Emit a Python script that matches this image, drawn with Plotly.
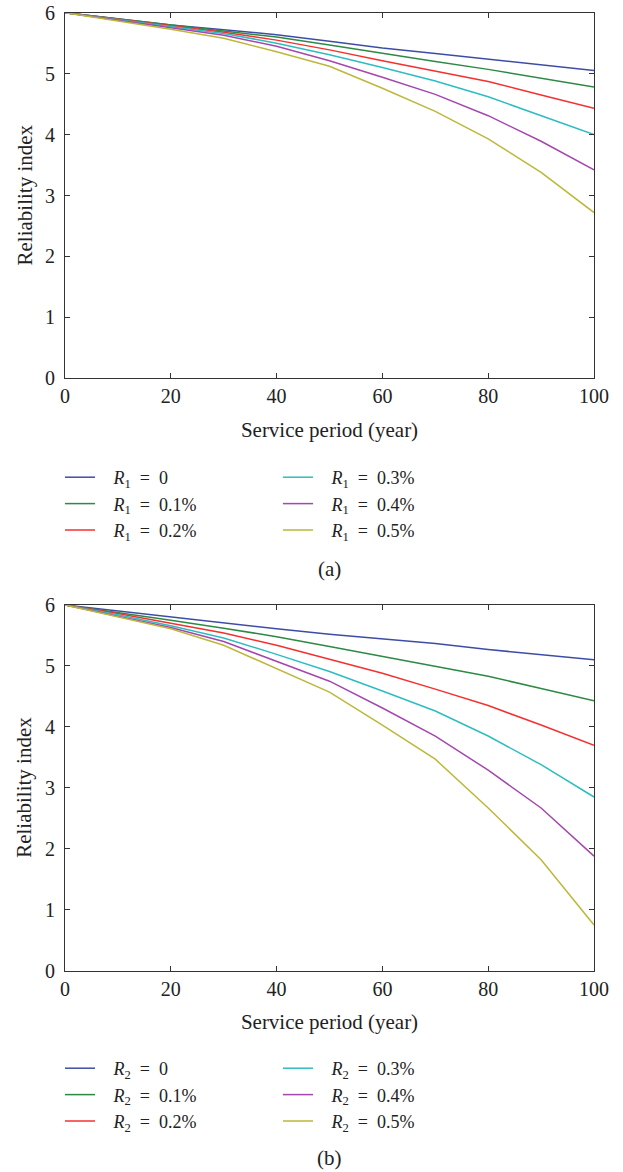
import plotly.graph_objects as go

# ---- data ----
years = [0, 10, 20, 30, 40, 50, 60, 70, 80, 90, 100]

r_labels = ["0", "0.1%", "0.2%", "0.3%", "0.4%", "0.5%"]

# (a) R1 series
a_r0 = [6, 5.90, 5.80, 5.72, 5.64, 5.53, 5.42, 5.33, 5.24, 5.14, 5.05]
a_r1 = [6, 5.90, 5.79, 5.70, 5.60, 5.47, 5.33, 5.20, 5.07, 4.93, 4.78]
a_r2 = [6, 5.89, 5.78, 5.68, 5.55, 5.39, 5.21, 5.04, 4.87, 4.65, 4.43]
a_r3 = [6, 5.89, 5.77, 5.66, 5.50, 5.31, 5.10, 4.88, 4.62, 4.31, 4.00]
a_r4 = [6, 5.88, 5.76, 5.63, 5.45, 5.21, 4.94, 4.66, 4.31, 3.89, 3.42]
a_r5 = [6, 5.87, 5.73, 5.58, 5.36, 5.12, 4.76, 4.38, 3.93, 3.38, 2.72]

# (b) R2 series
b_r0 = [6, 5.90, 5.80, 5.70, 5.61, 5.52, 5.45, 5.37, 5.27, 5.19, 5.10]
b_r1 = [6, 5.88, 5.75, 5.62, 5.48, 5.32, 5.16, 4.99, 4.83, 4.63, 4.43]
b_r2 = [6, 5.86, 5.70, 5.54, 5.34, 5.11, 4.88, 4.62, 4.35, 4.03, 3.70]
b_r3 = [6, 5.84, 5.66, 5.46, 5.19, 4.91, 4.59, 4.26, 3.85, 3.38, 2.85]
b_r4 = [6, 5.82, 5.63, 5.40, 5.08, 4.75, 4.31, 3.85, 3.29, 2.67, 1.88]
b_r5 = [6, 5.80, 5.61, 5.34, 4.96, 4.57, 4.03, 3.47, 2.67, 1.82, 0.75]

x_ticks = [0, 20, 40, 60, 80, 100]
y_ticks = [0, 1, 2, 3, 4, 5, 6]

colors = ["#3D4DA6", "#2D8A45", "#F5302F", "#2DBDC0", "#A447AE", "#BDB73A"]

FONT = "Liberation Serif"
FS = 20
TFS = 21
LFS = 18
W, H = 623, 1172
INK = "#222222"

fig = go.Figure()

a_series = [a_r0, a_r1, a_r2, a_r3, a_r4, a_r5]
b_series = [b_r0, b_r1, b_r2, b_r3, b_r4, b_r5]

def leg_name(sub, lab):
    return f"&nbsp;&nbsp;&nbsp;<i>R</i><sub>{sub}</sub>&nbsp; = &nbsp;{lab}"

for i, (ys, lab) in enumerate(zip(a_series, r_labels)):
    fig.add_trace(go.Scatter(
        x=years, y=ys, mode="lines",
        line=dict(color=colors[i], width=1.5),
        name=leg_name(1, lab),
        legend="legend" if i < 3 else "legend2",
        xaxis="x", yaxis="y",
    ))
for i, (ys, lab) in enumerate(zip(b_series, r_labels)):
    fig.add_trace(go.Scatter(
        x=years, y=ys, mode="lines",
        line=dict(color=colors[i], width=1.5),
        name=leg_name(2, lab),
        legend="legend3" if i < 3 else "legend4",
        xaxis="x2", yaxis="y2",
    ))

L, R = 65, 594
def xdom():
    return [L / W, R / W]
def ydom(top, bot):
    return [1 - bot / H, 1 - top / H]

axis_common = dict(
    showline=True, linecolor="#333333", linewidth=1.2, mirror="ticks",
    ticks="inside", ticklen=5, tickwidth=1, tickcolor="#333333",
    showgrid=False, zeroline=False,
    tickfont=dict(family=FONT, size=FS, color=INK),
    automargin=False,
)

fig.update_layout(
    width=W, height=H,
    margin=dict(l=0, r=0, t=0, b=0, autoexpand=False),
    paper_bgcolor="white", plot_bgcolor="white",
    font=dict(family=FONT, size=FS, color=INK),
    xaxis=dict(domain=xdom(), anchor="y", range=[0, 100], tickvals=x_ticks,
               title=dict(text="Service period (year)", font=dict(family=FONT, size=TFS)),
               **axis_common),
    yaxis=dict(domain=ydom(12.7, 378.3), anchor="x", range=[0, 6], tickvals=y_ticks,
               ticklabelstandoff=5, **axis_common),
    xaxis2=dict(domain=xdom(), anchor="y2", range=[0, 100], tickvals=x_ticks,
                title=dict(text="Service period (year)", font=dict(family=FONT, size=TFS)),
                **axis_common),
    yaxis2=dict(domain=ydom(605, 970.7), anchor="x2", range=[0, 6], tickvals=y_ticks,
                ticklabelstandoff=5, **axis_common),
    showlegend=True,
)

def legend_cfg(x_px, top_px):
    return dict(
        xref="container", yref="container",
        x=x_px / W, y=1 - top_px / H, xanchor="left", yanchor="top",
        orientation="v", bgcolor="rgba(0,0,0,0)", borderwidth=0,
        font=dict(family=FONT, size=LFS, color=INK),
        tracegroupgap=0, itemwidth=30,
    )

fig.update_layout(
    legend=legend_cfg(60, 459),
    legend2=legend_cfg(278, 459),
    legend3=legend_cfg(60, 1050),
    legend4=legend_cfg(278, 1050),
)

# y-axis titles (rotated) and panel labels
for yc in (195.5, 787.8):
    fig.add_annotation(text="Reliability index", xref="paper", yref="paper",
                       x=24 / W, y=1 - yc / H, textangle=-90, showarrow=False,
                       font=dict(family=FONT, size=TFS, color=INK),
                       xanchor="center", yanchor="middle")
for lab, yc in (("(a)", 569), ("(b)", 1158)):
    fig.add_annotation(text=lab, xref="paper", yref="paper", x=329.5 / W, y=1 - yc / H,
                       showarrow=False, font=dict(family=FONT, size=TFS, color=INK),
                       xanchor="center", yanchor="middle")

fig.write_html("out.html", config={"displayModeBar": False})

# remove default body margin so the figure fills the window exactly
with open("out.html", "r", encoding="utf-8") as f:
    html = f.read()
html = html.replace("<head>", "<head><style>html,body{margin:0;padding:0;}</style>", 1)
with open("out.html", "w", encoding="utf-8") as f:
    f.write(html)
